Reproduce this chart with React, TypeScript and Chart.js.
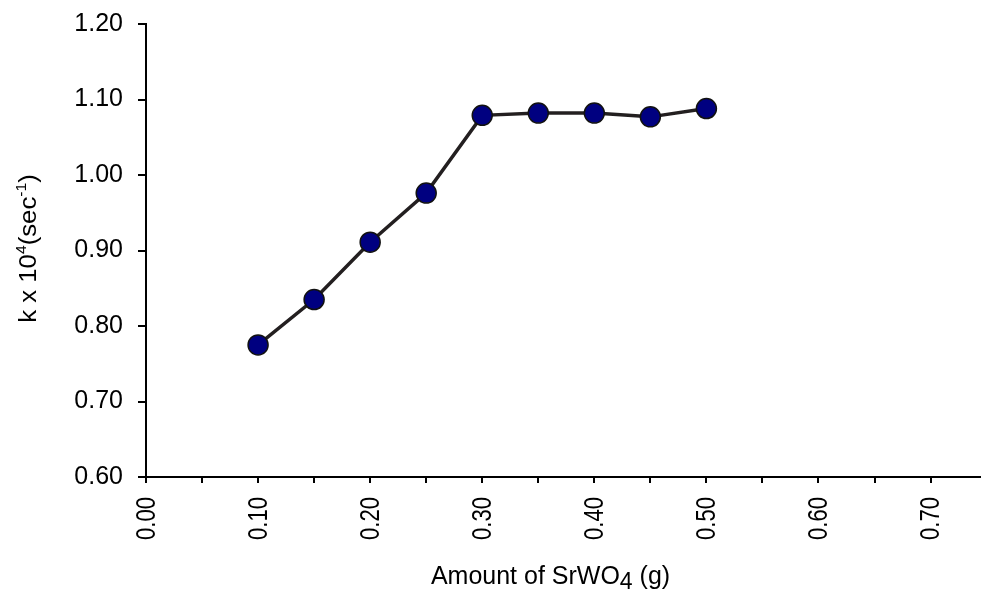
import React, { useEffect, useRef } from "react";
import { Chart, registerables } from "chart.js";

Chart.register(...registerables);

const amounts = [0.1, 0.15, 0.2, 0.25, 0.3, 0.35, 0.4, 0.45, 0.5];
const kValues = [0.775, 0.835, 0.911, 0.976, 1.079, 1.082, 1.082, 1.077, 1.088];
const xTitleParts = ["Amount of SrWO", "4", " (g)"];
const yTitleParts = ["k x 10", "4", "(sec", "-1", ")"];

const fmtX = (v: number) => {
  const n = Math.round(v * 100);
  return n % 10 === 0 ? (n / 100).toFixed(2) : "";
};

const titlePlugin = {
  id: "customTitles",
  afterDraw(chart: any) {
    const ctx = chart.ctx as CanvasRenderingContext2D;
    const area = chart.chartArea;
    const xs = chart.scales.x;
    ctx.save();
    ctx.fillStyle = "#000";

    // X tick labels (rotated, condensed)
    ctx.font = "28px 'Liberation Sans', Arial, sans-serif";
    ctx.textAlign = "right";
    ctx.textBaseline = "middle";
    xs.ticks.forEach((t: any) => {
      const label = fmtX(t.value);
      if (!label) return;
      const px = xs.getPixelForValue(t.value);
      ctx.save();
      ctx.translate(px + 1, area.bottom + 20);
      ctx.rotate(-Math.PI / 2);
      ctx.scale(0.79, 1);
      ctx.fillText(label, 0, 0);
      ctx.restore();
    });

    ctx.textBaseline = "alphabetic";
    ctx.textAlign = "left";
    // X title
    const big = "25px 'Liberation Sans', Arial, sans-serif";
    const sub = "23px 'Liberation Sans', Arial, sans-serif";
    ctx.font = big;
    const w0 = ctx.measureText(xTitleParts[0]).width;
    const w2 = ctx.measureText(xTitleParts[2]).width;
    ctx.font = sub;
    const w1 = ctx.measureText(xTitleParts[1]).width;
    const total = w0 + w1 + w2;
    const cx = (area.left + area.right) / 2 - 13;
    let x = cx - total / 2;
    const base = 584;
    ctx.font = big;
    ctx.fillText(xTitleParts[0], x, base);
    x += w0;
    ctx.font = sub;
    ctx.fillText(xTitleParts[1], x, base + 5);
    x += w1;
    ctx.font = big;
    ctx.fillText(xTitleParts[2], x, base);

    // Y title (rotated, with superscripts)
    const yBig = "23px 'Liberation Sans', Arial, sans-serif";
    const ySup = "14px 'Liberation Sans', Arial, sans-serif";
    const fonts = [yBig, ySup, yBig, ySup, yBig];
    const rise = [0, -10, 0, -10, 0];
    const widths = yTitleParts.map((t, i) => {
      ctx.font = fonts[i];
      return ctx.measureText(t).width;
    });
    const stretch = 1.12;
    const tw = widths.reduce((a, b) => a + b, 0) * stretch;
    const cy = (area.top + area.bottom) / 2 - 2;
    ctx.translate(36, cy);
    ctx.rotate(-Math.PI / 2);
    ctx.scale(stretch, 1);
    let px = -tw / stretch / 2;
    yTitleParts.forEach((t, i) => {
      ctx.font = fonts[i];
      ctx.fillText(t, px, rise[i]);
      px += widths[i];
    });
    ctx.restore();
  },
};

export default function App() {
  const ref = useRef<HTMLCanvasElement | null>(null);
  useEffect(() => {
    if (!ref.current) return;
    const chart = new Chart(ref.current, {
      type: "scatter",
      data: {
        datasets: [
          {
            data: amounts.map((a, i) => ({ x: a, y: kValues[i] })),
            showLine: true,
            borderColor: "#231f20",
            borderWidth: 3.5,
            pointRadius: 10,
            pointHoverRadius: 10,
            pointBackgroundColor: "#000080",
            pointBorderColor: "#111111",
            pointBorderWidth: 1.5,
          },
        ],
      },
      options: {
        animation: false,
        responsive: false,
        maintainAspectRatio: false,
        layout: { autoPadding: false, padding: { top: 24, right: 0, bottom: 0, left: 0 } },
        plugins: {
          legend: { display: false },
          tooltip: { enabled: false },
          title: { display: false },
        },
        scales: {
          x: {
            type: "linear",
            min: 0,
            max: 0.745,
            border: { display: true, color: "#000", width: 2 },
            grid: {
              display: true,
              drawOnChartArea: false,
              drawTicks: true,
              tickLength: 6,
              color: "#000",
              lineWidth: 2,
            },
            ticks: {
              display: false,
              stepSize: 0.05,
              includeBounds: false,
              autoSkip: false,
              callback: (v: any) => fmtX(Number(v)),
            },
            afterFit: (s: any) => {
              s.height = 116;
              s.paddingLeft = 0;
              s.paddingRight = 0;
            },
          },
          y: {
            type: "linear",
            min: 0.6,
            max: 1.2,
            border: { display: true, color: "#000", width: 2 },
            grid: {
              display: true,
              drawOnChartArea: false,
              drawTicks: true,
              tickLength: 8,
              color: "#000",
              lineWidth: 2,
            },
            ticks: {
              stepSize: 0.1,
              padding: 15,
              color: "#000",
              font: { family: "'Liberation Sans', Arial, sans-serif", size: 25 },
              callback: (v: any) => Number(v).toFixed(2),
            },
            afterFit: (s: any) => {
              s.width = 146;
              s.paddingTop = 0;
              s.paddingBottom = 0;
            },
          },
        },
      },
      plugins: [titlePlugin],
    });
    return () => chart.destroy();
  }, []);
  return (
    <div style={{ position: "absolute", left: 0, top: 0, width: 981, height: 593, background: "#fff" }}>
      <canvas ref={ref} width={981} height={593} style={{ display: "block" }} />
    </div>
  );
}
